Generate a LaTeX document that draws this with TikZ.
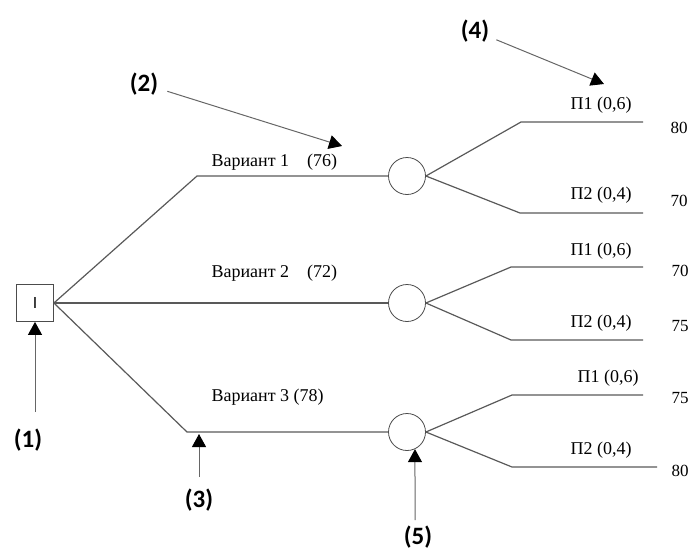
\documentclass[tikz,border=0pt]{standalone}
\usepackage{fontspec}
\setmainfont{Liberation Serif}
\setsansfont{Liberation Sans}
\newfontfamily\markfont{Carlito}
\usetikzlibrary{arrows.meta,shapes}

\begin{document}
\begin{tikzpicture}[
  x=1pt,y=-1pt,
  font=\fontsize{18}{20}\selectfont,
  decision/.style={draw=black!70,rectangle,minimum size=37pt,inner sep=0pt,line width=0.8pt},
  chance/.style={draw=black!70,circle,minimum size=37pt,inner sep=0pt,line width=0.8pt},
  branch/.style={draw=black!65,line width=1.2pt},
  value/.style={font=\fontsize{17}{19}\selectfont},
  marker/.style={font=\markfont\bfseries\fontsize{25}{28}\selectfont},
  to/.style={-{Triangle[width=14pt,length=13pt,color=black]},draw=black!60,line width=1pt},
  every node/.style={align=center}]

  \useasboundingbox (0,0) rectangle (692,555);

  % Decision node and the three chance nodes
  \node[decision] (root) at (35,303) {\sffamily\fontsize{16}{16}\selectfont I};
  \node[chance] (var1) at (407,176) {};
  \node[chance] (var2) at (407,303) {};
  \node[chance] (var3) at (407,432) {};

  % Bends and ends of the branches
  \coordinate (var1_bend) at (197,176);
  \coordinate (var3_bend) at (187,432);
  \coordinate (var1_up) at (521,122);   \coordinate (var1_up_end) at (643,122);
  \coordinate (var1_dn) at (520,213);   \coordinate (var1_dn_end) at (643,213);
  \coordinate (var2_up) at (511,267);   \coordinate (var2_up_end) at (643,267);
  \coordinate (var2_dn) at (511,340);   \coordinate (var2_dn_end) at (643,340);
  \coordinate (var3_up) at (512,395);   \coordinate (var3_up_end) at (643,395);
  \coordinate (var3_dn) at (512,467);   \coordinate (var3_dn_end) at (657,467);

  % Draw the branches
  \draw[branch] (root.east) -- (var1_bend) -- (var1);
  \draw[branch] (root.east) -- (var2);
  \draw[branch] (root.east) -- (var3_bend) -- (var3);
  \draw[branch] (var1.east) -- (var1_up) -- (var1_up_end);
  \draw[branch] (var1.east) -- (var1_dn) -- (var1_dn_end);
  \draw[branch] (var2.east) -- (var2_up) -- (var2_up_end);
  \draw[branch] (var2.east) -- (var2_dn) -- (var2_dn_end);
  \draw[branch] (var3.east) -- (var3_up) -- (var3_up_end);
  \draw[branch] (var3.east) -- (var3_dn) -- (var3_dn_end);

  % Labels of the variants
  \node[anchor=west] (var1_lbl) at (208,162) {Вариант 1\quad (76)};
  \node[anchor=west] (var2_lbl) at (208,273) {Вариант 2\quad (72)};
  \node[anchor=west] (var3_lbl) at (208,397) {Вариант 3 (78)};

  % Probabilities and outcomes
  \node (p1_a) at (601,105) {П1 (0,6)};  \node[value] (val1_a) at (679,128) {80};
  \node (p2_a) at (601,195) {П2 (0,4)};  \node[value] (val2_a) at (679,201) {70};
  \node (p1_b) at (601,251) {П1 (0,6)};  \node[value] (val1_b) at (680,271) {70};
  \node (p2_b) at (601,323) {П2 (0,4)};  \node[value] (val2_b) at (680,326) {75};
  \node (p1_c) at (608,378) {П1 (0,6)};  \node[value] (val1_c) at (680,398) {75};
  \node (p2_c) at (601,450) {П2 (0,4)};  \node[value] (val2_c) at (680,471) {80};

  % Numbered markers with their arrows
  \node[marker] (mark1) at (28,440) {(1)};
  \node[marker] (mark2) at (144,84) {(2)};
  \node[marker] (mark3) at (199,500) {(3)};
  \node[marker] (mark4) at (475,31) {(4)};
  \node[marker] (mark5) at (418,537) {(5)};
  \coordinate (mark1_tail) at (35,412);
  \coordinate (mark2_tip) at (342,146);
  \coordinate (mark3_tail) at (199,477);
  \coordinate (mark3_tip) at (199,434);
  \coordinate (mark4_tip) at (604,84);
  \coordinate (mark5_tail) at (415,520);

  \draw[to] (mark1_tail) -- (root.south);
  \draw[to,shorten <=6pt] (mark2) -- (mark2_tip);
  \draw[to] (mark3_tail) -- (mark3_tip);
  \draw[to,shorten <=4pt] (mark4) -- (mark4_tip);
  \draw[to] (mark5_tail) -- (var3.-65);
\end{tikzpicture}
\end{document}
